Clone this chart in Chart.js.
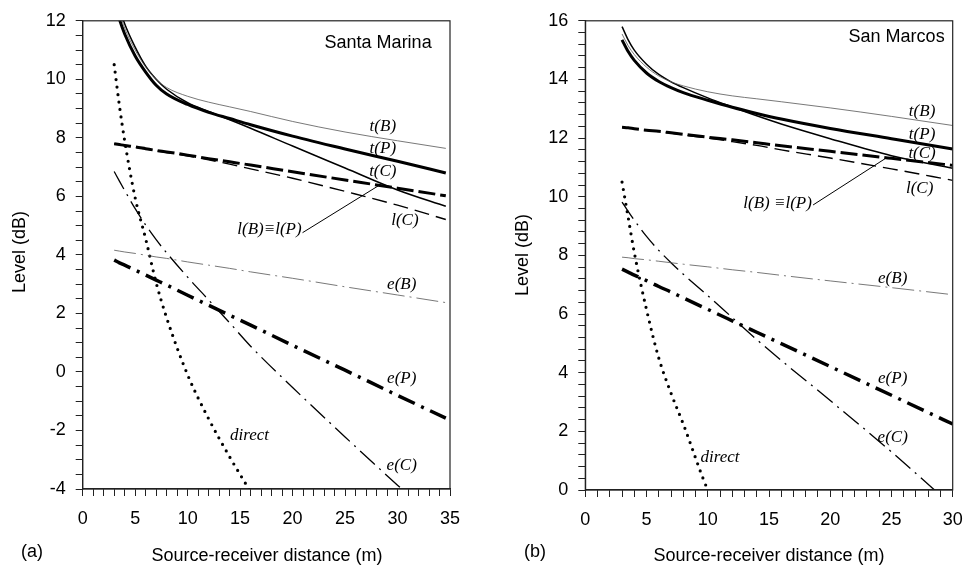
<!DOCTYPE html>
<html>
<head>
<meta charset="utf-8">
<script src="https://cdn.jsdelivr.net/npm/chart.js@4.4.1/dist/chart.umd.min.js"></script>
<style>
  html, body { margin: 0; padding: 0; background: #fff; overflow: hidden; }
  #wrap { position: relative; width: 964px; height: 567px; }
  .panel { position: absolute; top: 0; }
</style>
</head>
<body>
<div id="wrap">
  <div class="panel" style="left:0"><canvas id="chartA" width="482" height="567"></canvas></div>
  <div class="panel" style="left:482px"><canvas id="chartB" width="500" height="567"></canvas></div>
</div>
<script>
// ---- (a) Santa Marina ----
const distA   = [3, 3.5, 4, 5, 6, 7, 8, 10, 12, 14, 16, 20, 25, 30, 34.6];
const tB_A    = [12.95, 12.3, 11.75, 11.0, 10.42, 10.0, 9.72, 9.42, 9.22, 9.06, 8.9, 8.56, 8.2, 7.9, 7.64];
const tP_A    = [12.65, 12.05, 11.55, 10.8, 10.25, 9.8, 9.5, 9.14, 8.87, 8.66, 8.45, 8.06, 7.62, 7.2, 6.8];
const tC_A    = [13.1, 12.45, 11.9, 11.1, 10.45, 10.0, 9.66, 9.2, 8.9, 8.62, 8.33, 7.72, 6.97, 6.22, 5.66];
const lBP_A   = [7.8, 7.77, 7.74, 7.69, 7.63, 7.57, 7.52, 7.41, 7.29, 7.18, 7.07, 6.84, 6.56, 6.28, 6.02];
const lC_A    = [7.8, 7.77, 7.74, 7.68, 7.62, 7.56, 7.5, 7.38, 7.25, 7.1, 6.94, 6.62, 6.17, 5.7, 5.21];
const eB_A    = [4.16, 4.13, 4.1, 4.05, 3.99, 3.93, 3.88, 3.76, 3.65, 3.54, 3.42, 3.2, 2.91, 2.63, 2.37];
const eP_A    = [3.82, 3.73, 3.65, 3.48, 3.31, 3.14, 2.97, 2.62, 2.28, 1.94, 1.6, 0.91, 0.06, -0.8, -1.58];
const eC_A    = [6.85, 6.52, 6.2, 5.58, 5.02, 4.52, 4.07, 3.24, 2.46, 1.68, 0.88, -0.53, -2.22, -3.87, -5.35];
const direct_A = [10.5, 9.1, 7.9, 5.95, 4.55, 3.05, 1.85, -0.1, -1.6, -2.9, -4.1, null, null, null, null];

// ---- (b) San Marcos ----
const distB   = [3, 3.5, 4, 5, 6, 7, 8, 10, 12, 14, 16, 20, 25, 30];
const tB_B    = [15.55, 15.15, 14.85, 14.42, 14.12, 13.92, 13.78, 13.58, 13.44, 13.34, 13.24, 13.03, 12.74, 12.43];
const tP_B    = [15.35, 14.95, 14.65, 14.22, 13.93, 13.72, 13.55, 13.29, 13.05, 12.84, 12.65, 12.33, 11.98, 11.63];
const tC_B    = [15.8, 15.35, 15.0, 14.52, 14.17, 13.92, 13.72, 13.37, 13.06, 12.76, 12.48, 11.98, 11.4, 10.97];
const lBP_B   = [12.37, 12.35, 12.32, 12.27, 12.23, 12.18, 12.13, 12.03, 11.94, 11.84, 11.74, 11.55, 11.31, 11.07];
const lC_B    = [12.37, 12.35, 12.32, 12.27, 12.22, 12.17, 12.11, 12.0, 11.88, 11.75, 11.6, 11.32, 10.95, 10.56];
const eB_B    = [7.94, 7.92, 7.89, 7.85, 7.8, 7.75, 7.7, 7.61, 7.51, 7.42, 7.32, 7.13, 6.9, 6.66];
const eP_B    = [7.53, 7.43, 7.33, 7.14, 6.94, 6.75, 6.55, 6.16, 5.77, 5.38, 4.99, 4.21, 3.23, 2.25];
const eC_B    = [9.82, 9.5, 9.2, 8.65, 8.17, 7.75, 7.36, 6.63, 5.88, 5.13, 4.42, 3.05, 1.3, -0.55];
const direct_B = [10.5, 9.3, 8.1, 6.15, 4.5, 3.3, 2.25, 0.0, -1.6, null, null, null, null, null];

// curve labels: text, distance, level
const labelsA = [
  ['t(B)', 28.6, 8.38], ['t(P)', 28.6, 7.64], ['t(C)', 28.6, 6.86], ['l(C)', 30.7, 5.17],
  ['l(B)\u2261l(P)', 17.8, 4.86], ['e(B)', 30.4, 3.0], ['e(P)', 30.4, -0.21],
  ['e(C)', 30.4, -3.19], ['direct', 15.9, -2.17]
];
const labelsB = [
  ['t(B)', 27.5, 12.89], ['t(P)', 27.5, 12.11], ['t(C)', 27.5, 11.47], ['l(C)', 27.3, 10.28],
  ['l(B) \u2261l(P)', 15.7, 9.77], ['e(B)', 25.1, 7.22], ['e(P)', 25.1, 3.79],
  ['e(C)', 25.1, 1.79], ['direct', 11.0, 1.12]
];

// line looks
const styles = {
  tB:     { w: 0.8, c: '#555', dash: [] },
  tP:     { w: 3,   c: '#000', dash: [] },
  tC:     { w: 1.5, c: '#000', dash: [] },
  lBP:    { w: 3,   c: '#000', dash: [17, 5] },
  lC:     { w: 1.4, c: '#000', dash: [15, 7] },
  eB:     { w: 0.8, c: '#555', dash: [22, 5, 2, 5] },
  eP:     { w: 3.5, c: '#000', dash: [18, 7, 3, 7] },
  eC:     { w: 1.3, c: '#000', dash: [20, 6, 2, 6] },
  direct: { w: 3.2, c: '#000', dash: [0, 7.5], cap: 'round' }
};

const sansFont = '"Liberation Sans", Arial, sans-serif';
Chart.defaults.color = '#000';
Chart.defaults.font.family = sansFont;

function makeDatasets(dist, series) {
  return Object.keys(series).map(function(key) {
    const st = styles[key];
    return {
      label: key,
      data: dist.map((d, i) => ({ x: d, y: series[key][i] })),
      borderColor: st.c,
      borderWidth: st.w,
      borderDash: st.dash,
      borderCapStyle: st.cap || 'butt',
      pointRadius: 0,
      fill: false,
      cubicInterpolationMode: 'monotone',
      spanGaps: false,
      clip: 0
    };
  });
}

function decorPlugin(cfg) {
  return {
    id: 'decor',
    afterDraw(chart) {
      const ctx = chart.ctx, a = chart.chartArea;
      const xs = chart.scales.x, ys = chart.scales.y;
      ctx.save();
      // frame
      ctx.strokeStyle = '#222';
      ctx.lineWidth = 1.2;
      ctx.strokeRect(a.left, a.top, a.right - a.left, a.bottom - a.top);
      // leader line to l(B)=l(P)
      ctx.lineWidth = 1;
      ctx.strokeStyle = '#000';
      ctx.beginPath();
      ctx.moveTo(xs.getPixelForValue(cfg.leader[0]), ys.getPixelForValue(cfg.leader[1]));
      ctx.lineTo(xs.getPixelForValue(cfg.leader[2]), ys.getPixelForValue(cfg.leader[3]));
      ctx.stroke();
      // curve names
      ctx.fillStyle = '#000';
      ctx.textAlign = 'center';
      ctx.textBaseline = 'middle';
      ctx.font = 'italic 17px "Liberation Serif", "DejaVu Serif", serif';
      cfg.labels.forEach(function(l) {
        ctx.fillText(l[0], xs.getPixelForValue(l[1]), ys.getPixelForValue(l[2]));
      });
      // site name
      ctx.font = '18px ' + sansFont;
      ctx.fillText(cfg.site[0], xs.getPixelForValue(cfg.site[1]), ys.getPixelForValue(cfg.site[2]));
      // axis titles and panel tag
      ctx.fillText('Source-receiver distance (m)', cfg.xTitle[0], cfg.xTitle[1]);
      ctx.fillText(cfg.tag[0], cfg.tag[1], cfg.tag[2]);
      ctx.translate(cfg.yTitle[0], cfg.yTitle[1]);
      ctx.rotate(-Math.PI / 2);
      ctx.fillText('Level (dB)', 0, 0);
      ctx.restore();
    }
  };
}

function makeChart(id, dist, series, cfg) {
  const tickFont = { size: 18, family: sansFont };
  new Chart(document.getElementById(id), {
    type: 'line',
    data: { datasets: makeDatasets(dist, series) },
    options: {
      responsive: false,
      animation: false,
      events: [],
      layout: { padding: cfg.padding },
      plugins: { legend: { display: false }, tooltip: { enabled: false } },
      scales: {
        x: {
          type: 'linear',
          min: 0, max: cfg.xMax,
          afterFit: function(s) { s.height = cfg.xAxisHeight; },
          grid: { drawOnChartArea: false, drawTicks: true, tickLength: 7, color: '#222', lineWidth: 1 },
          border: { display: true, color: '#222', width: 1.2 },
          ticks: {
            stepSize: 1, autoSkip: false, maxRotation: 0, padding: 12, font: tickFont,
            callback: v => (Math.abs(v % 5) < 1e-6 ? String(Math.round(v)) : '')
          }
        },
        y: {
          type: 'linear',
          min: cfg.yMin, max: cfg.yMax,
          afterFit: function(s) { s.width = cfg.yAxisWidth; },
          grid: { drawOnChartArea: false, drawTicks: true, tickLength: 7, color: '#222', lineWidth: 1 },
          border: { display: true, color: '#222', width: 1.2 },
          ticks: {
            stepSize: cfg.yStep, autoSkip: false, padding: 10, font: tickFont,
            callback: v => (Math.abs(v / 2 - Math.round(v / 2)) < 1e-6 ? String(Math.round(v)) : '')
          }
        }
      }
    },
    plugins: [decorPlugin(cfg)]
  });
}

makeChart('chartA', distA,
  { eB: eB_A, tB: tB_A, lC: lC_A, eC: eC_A, tC: tC_A, direct: direct_A, lBP: lBP_A, eP: eP_A, tP: tP_A },
  {
    xMax: 35, yMin: -4, yMax: 12, yStep: 0.5,
    padding: { left: 0, right: 32, top: 16, bottom: 0 },
    yAxisWidth: 82.7, xAxisHeight: 78,
    labels: labelsA,
    leader: [20.95, 4.76, 28.3, 6.39],
    site: ['Santa Marina', 28.15, 11.25],
    xTitle: [267, 556], yTitle: [20, 252], tag: ['(a)', 32, 552]
  });

makeChart('chartB', distB,
  { eB: eB_B, tB: tB_B, lC: lC_B, eC: eC_B, tC: tC_B, direct: direct_B, lBP: lBP_B, eP: eP_B, tP: tP_B },
  {
    xMax: 30, yMin: 0, yMax: 16, yStep: 0.4,
    padding: { left: 0, right: 29.3, top: 18.3, bottom: 0 },
    yAxisWidth: 103.3, xAxisHeight: 77,
    labels: labelsB,
    leader: [18.6, 9.72, 24.6, 11.33],
    site: ['San Marcos', 25.42, 15.43],
    xTitle: [287, 556], yTitle: [41, 255], tag: ['(b)', 53, 552]
  });
</script>
</body>
</html>
